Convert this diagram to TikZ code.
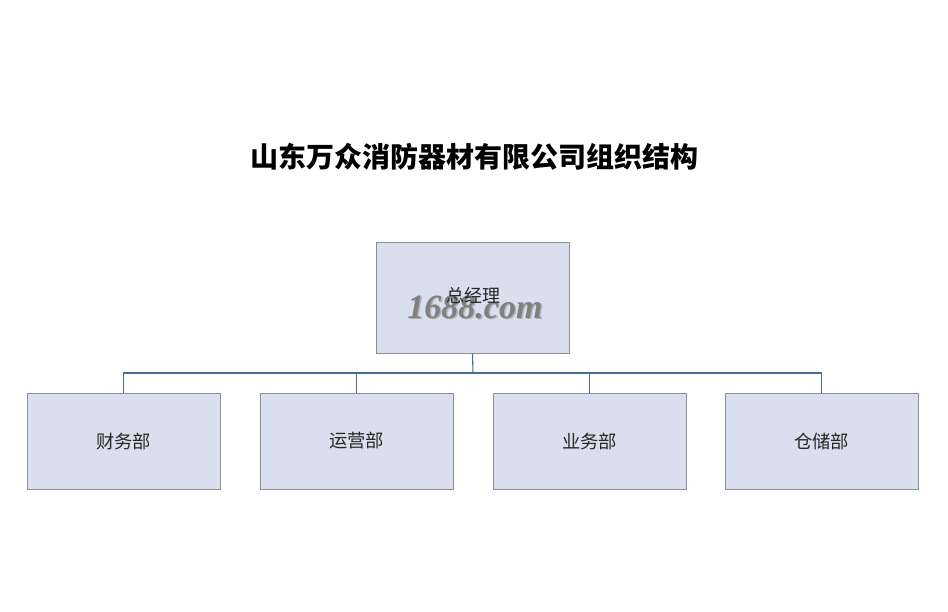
\documentclass[tikz,border=0pt]{standalone}
\usepackage{fontspec}
\newfontfamily\cjk{Noto Sans CJK SC}
\newfontfamily\wmfont{Liberation Serif}
\definecolor{boxfill}{HTML}{D9DFEE}
\definecolor{boxline}{HTML}{8E8E96}
\definecolor{linkc}{HTML}{4A6A9C}
\begin{document}
\begin{tikzpicture}[x=1pt,y=-1pt,
  orgbox/.style={draw=boxline,fill=boxfill,line width=0.8pt,minimum width=193pt,inner sep=0pt,font=\cjk\fontsize{18.3}{22}\selectfont,text=black!85},
  link/.style={draw=linkc,line width=1.1pt}]
\useasboundingbox (0,0) rectangle (948,612);
\fill[white] (0,0) rectangle (948,612);
\node[font=\cjk\bfseries\fontsize{28}{32}\selectfont] (title) at (474,157) {山东万众消防器材有限公司组织结构};
\node[orgbox,minimum height=111pt] (gm) at (472.5,297.5) {};
\node[font=\wmfont\bfseries\itshape\fontsize{34}{36}\selectfont,text=black!30] (wms) at (476.5,308.5) {1688.com};
\node[font=\wmfont\bfseries\itshape\fontsize{34}{36}\selectfont,text=black!50] (wm) at (475,307) {1688.com};
\node[font=\cjk\fontsize{18}{22}\selectfont,text=black!85] (gmt) at (473,296) {总经理};
\node[orgbox,minimum height=96pt] (b1) at (123.5,441) {财务部};
\node[orgbox,minimum height=96pt] (b2) at (356.5,441) {运营部};
\node[orgbox,minimum height=96pt] (b3) at (589.5,441) {业务部};
\node[orgbox,minimum height=96pt] (b4) at (821.5,441) {仓储部};
\coordinate (bus) at (473,373);
\draw[link] (gm.south) -- (bus);
\draw[link] (b1.north) |- (bus) -| (b4.north);
\draw[link] (b2.north) -- (b2.north |- bus);
\draw[link] (b3.north) -- (b3.north |- bus);
\end{tikzpicture}
\end{document}
